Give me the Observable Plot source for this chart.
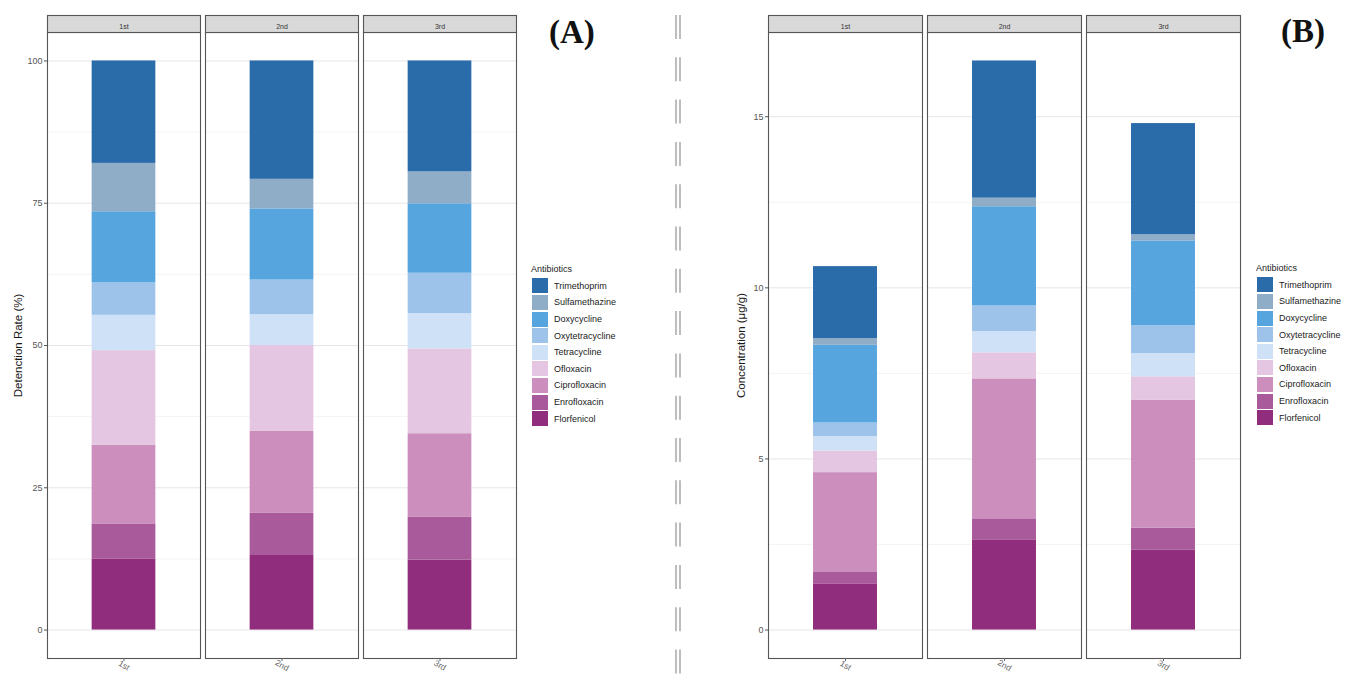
<!DOCTYPE html>
<html>
<head>
<meta charset="utf-8">
<script src="https://cdn.jsdelivr.net/npm/d3@7"></script>
<script src="https://cdn.jsdelivr.net/npm/@observablehq/plot@0.6"></script>
<style>
  html, body { margin: 0; padding: 0; background: #fff; }
  #root { position: relative; width: 1352px; height: 680px; overflow: hidden; font-family: "Liberation Sans", Arial, sans-serif; }
  .tag { position: absolute; font-family: "Liberation Serif", "Times New Roman", serif; font-weight: bold; font-size: 33px; color: #111; line-height: 1; }
  .legend-title { position: absolute; font-size: 9px; color: #1a1a1a; line-height: 13px; white-space: nowrap; }
  .legend-row { position: absolute; height: 16.6px; display: flex; align-items: center; font-size: 9px; color: #1a1a1a; white-space: nowrap; }
  .legend-key { width: 16px; height: 15px; margin-right: 6px; }
</style>
</head>
<body>
<div id="root"></div>
<script>
// ---------------- data ----------------
const antibiotics = ["Florfenicol", "Enrofloxacin", "Ciprofloxacin", "Ofloxacin", "Tetracycline",
                     "Oxytetracycline", "Doxycycline", "Sulfamethazine", "Trimethoprim"];
const antibioticColors = ["#912D7D", "#A85A9A", "#CC8FBD", "#E5C6E2", "#CFE1F6",
                          "#9EC3EA", "#56A5DE", "#8FADC7", "#2A6BAA"];
const rounds = ["1st", "2nd", "3rd"];

// (A) Detection rate (%) per antibiotic, bottom -> top
const detection1st = [12.5, 6.15, 13.85, 16.6, 6.2, 5.7, 12.5, 8.5, 18.0];
const detection2nd = [13.1, 7.4, 14.4, 15.1, 5.4, 6.1, 12.5, 5.2, 20.8];
const detection3rd = [12.3, 7.5, 14.7, 14.9, 6.2, 7.1, 12.2, 5.6, 19.5];

// (B) Concentration (μg/g) per antibiotic, bottom -> top
const conc1st = [1.35, 0.35, 2.90, 0.63, 0.42, 0.40, 2.27, 0.20, 2.10];
const conc2nd = [2.62, 0.63, 4.09, 0.76, 0.62, 0.75, 2.90, 0.25, 4.01];
const conc3rd = [2.33, 0.65, 3.74, 0.68, 0.68, 0.81, 2.48, 0.18, 3.25];

const yTicksA = [0, 25, 50, 75, 100];
const yMinorA = [12.5, 37.5, 62.5, 87.5];
const yTicksB = [0, 5, 10, 15];
const yMinorB = [2.5, 7.5, 12.5];

const labelA = "Detenction Rate (%)";
const labelB = "Concentration (μg/g)";
const legendTitle = "Antibiotics";

// ---------------- build tables ----------------
function table(series) {
  const rows = [];
  rounds.forEach((r, i) => {
    antibiotics.forEach((a, j) => rows.push({round: r, antibiotic: a, value: series[i][j]}));
  });
  return rows;
}
const dataA = table([detection1st, detection2nd, detection3rd]);
const dataB = table([conc1st, conc2nd, conc3rd]);

const root = document.getElementById("root");
const H = 680, MT = 32, MB = 22;
const PAD = 0.034;

function panel({data, left, width, marginLeft, marginRight, ticks, minor, label, labelOffset}) {
  const totals = d3.rollup(data, v => d3.sum(v, d => d.value), d => d.round);
  const maxTotal = d3.max(totals.values());
  const domain = [-0.05 * maxTotal, 1.05 * maxTotal];
  const plotW = width - marginLeft - marginRight;
  const step = plotW / (rounds.length - PAD);
  const bw = step * (1 - PAD);
  const inset = bw * (0.35 / 1.2);
  const plotH = H - MT - MB;
  const chart = Plot.plot({
    width, height: H, marginTop: MT, marginBottom: MB, marginLeft, marginRight,
    style: {fontFamily: "'Liberation Sans', Arial, sans-serif", background: "transparent", overflow: "visible"},
    fx: {domain: rounds, paddingInner: PAD, paddingOuter: 0, label: null},
    y: {domain, label: null},
    color: {domain: antibiotics, range: antibioticColors},
    marks: [
      Plot.gridY(minor, {stroke: "#ededed", strokeOpacity: 1, strokeWidth: 0.6}),
      Plot.gridY(ticks, {stroke: "#e6e6e6", strokeOpacity: 1, strokeWidth: 1}),
      Plot.barY(data, {fx: "round", y: "value", fill: "antibiotic", insetLeft: inset, insetRight: inset}),
      Plot.frame({stroke: "#555", strokeWidth: 1.1}),
      Plot.frame({fill: "#d9d9d9", stroke: "#555", strokeWidth: 1.1, insetTop: -17, insetBottom: plotH}),
      Plot.text(rounds, {fx: d => d, text: d => d, frameAnchor: "top", dy: -8.5, fontSize: 7, fill: "#333"}),
      Plot.axisY(ticks, {tickSize: 3, tickPadding: 2, fontSize: 9, color: "#555", label: null}),
      Plot.axisY({label, labelAnchor: "center", labelArrow: "none", labelOffset, fontSize: 11.5,
                  color: "#1a1a1a", tickSize: 0, ticks: [], text: null}),
      Plot.axisFx({anchor: "bottom", tickSize: 3, tickPadding: 4, tickRotate: 30, textAnchor: "middle",
                   fontSize: 8.5, label: null, color: "#666"})
    ]
  });
  chart.style.position = "absolute";
  chart.style.left = left + "px";
  chart.style.top = "0px";
  root.appendChild(chart);
  return chart;
}

panel({data: dataA, left: 0, width: 530, marginLeft: 46, marginRight: 14,
       ticks: yTicksA, minor: yMinorA, label: labelA, labelOffset: 34});
panel({data: dataB, left: 700, width: 560, marginLeft: 67, marginRight: 19,
       ticks: yTicksB, minor: yMinorB, label: labelB, labelOffset: 32});

// legends
function legend(x, titleY) {
  const t = document.createElement("div");
  t.className = "legend-title";
  t.style.left = x + "px";
  t.style.top = (titleY - 6.5) + "px";
  t.textContent = legendTitle;
  root.appendChild(t);
  const order = antibiotics.slice().reverse();
  const colorsRev = antibioticColors.slice().reverse();
  order.forEach((name, i) => {
    const row = document.createElement("div");
    row.className = "legend-row";
    row.style.left = (x + 1) + "px";
    row.style.top = (titleY + 8.1 + i * 16.6) + "px";
    const key = document.createElement("div");
    key.className = "legend-key";
    key.style.background = colorsRev[i];
    row.appendChild(key);
    const s = document.createElement("span");
    s.textContent = name;
    row.appendChild(s);
    root.appendChild(row);
  });
}
legend(531, 269.5);
legend(1256, 268.5);

// panel tags
function tag(text, x, y) {
  const d = document.createElement("div");
  d.className = "tag";
  d.style.left = x + "px";
  d.style.top = y + "px";
  d.textContent = text;
  root.appendChild(d);
}
tag("(A)", 549, 16);
tag("(B)", 1281, 15);

// dashed double divider
const ns = "http://www.w3.org/2000/svg";
const div = document.createElementNS(ns, "svg");
div.setAttribute("width", 20);
div.setAttribute("height", H);
div.style.position = "absolute";
div.style.left = "668px";
div.style.top = "0px";
[8, 12].forEach(x => {
  const l = document.createElementNS(ns, "line");
  l.setAttribute("x1", x); l.setAttribute("x2", x);
  l.setAttribute("y1", 15); l.setAttribute("y2", H);
  l.setAttribute("stroke", "#9a9a9a");
  l.setAttribute("stroke-width", 1.3);
  l.setAttribute("stroke-dasharray", "24 18.3");
  div.appendChild(l);
});
root.appendChild(div);
</script>
</body>
</html>
